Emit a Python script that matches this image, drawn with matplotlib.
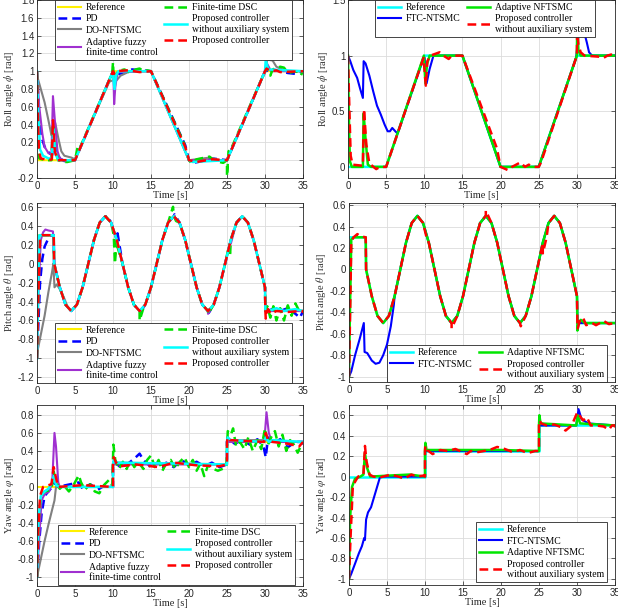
import numpy as np
import matplotlib.pyplot as plt

plt.rcParams['font.family'] = ['Liberation Serif', 'DejaVu Serif']
plt.rcParams['mathtext.fontset'] = 'stix'
plt.rcParams['axes.unicode_minus'] = False

# reference trajectories (corner points)
roll_t = [0, 5, 10, 15, 20, 25, 30, 35]
roll_v = [0, 0, 1, 1, 0, 0, 1, 1]

pitch_t = [0, 2.2] + list(np.arange(2.25, 30.01, 0.75)) + [30.05, 35]
pitch_v = [0.3, 0.3,
           0.0, -0.25, -0.433, -0.5, -0.433, -0.25, 0.0, 0.25, 0.433, 0.5, 0.433, 0.25,
           0.0, -0.25, -0.433, -0.5, -0.433, -0.25, 0.0, 0.25, 0.433, 0.5, 0.433, 0.25,
           0.0, -0.25, -0.433, -0.5, -0.433, -0.25, 0.0, 0.25, 0.433, 0.5, 0.433, 0.25,
           0.0, -0.25,
           -0.5, -0.5]

yaw_t = [0, 10, 10, 25, 25, 35]
yaw_v = [0, 0, 0.25, 0.25, 0.5, 0.5]

# --- roll, left panel: own points of each controller (t, value)
roll_pd = [(0, 1), (0.3, 0.5), (0.6, 0.26), (1.0, 0.15), (1.6, 0.08), (2.0, 0.06), (2.2, 0.25),
           (2.5, 0.1), (3.0, 0.02), (3.6, -0.01), (4.5, 0.0), (10.2, 0.95), (12.5, 1.02),
           (19.5, 0.17), (20.5, -0.03), (21.2, -0.02), (23, 0.02), (31, 1.02), (33, 0.98), (34, 0.97)]
roll_do = [(0, 0.95), (0.5, 0.8), (1.0, 0.65), (1.5, 0.45), (1.9, 0.28), (2.1, 0.3), (2.4, 0.42),
           (2.8, 0.25), (3.2, 0.1), (3.6, 0.05), (4.5, 0.03), (5.0, 0.01), (9.5, 0.88), (10.0, 0.9),
           (10.5, 0.9), (11.0, 0.95), (12.0, 0.99), (13.0, 1.0), (22.8, 0.03), (24.0, 0.0),
           (29.5, 0.9), (30.0, 0.98), (30.3, 1.13), (31.0, 1.12), (31.5, 1.05), (32.0, 1.03), (33.0, 1.0)]
roll_af = [(0, 1), (0.3, 0.6), (0.7, 0.3), (1.0, 0.15), (1.5, 0.08), (1.9, 0.07), (2.1, 0.72),
           (2.3, 0.5), (2.7, 0.1), (3.0, 0.02), (3.5, 0.0), (9.8, 0.96), (10.05, 0.98), (10.15, 0.63),
           (10.3, 0.82), (10.6, 0.99), (30.3, 1.08), (30.8, 1.0)]
roll_dsc = [(0, 1), (0.15, 0.4), (0.3, 0.02), (1.0, 0.0), (1.9, 0.0), (2.1, 0.4), (2.4, 0.1), (2.8, 0.0),
            (3.5, -0.02), (4.0, -0.02), (5.4, 0.17), (5.7, 0.15), (9.9, 0.98), (10.0, 1.1), (10.1, 0.9),
            (10.3, 0.92), (10.6, 1.0), (11.5, 1.02), (12.3, 0.98), (13.0, 1.02), (13.5, 1.03), (14.0, 1.0),
            (14.5, 1.01), (19.3, 0.2), (19.6, 0.1), (20.3, -0.03), (21.0, 0.01), (22.7, 0.04), (23.2, 0.0),
            (24.0, -0.02), (24.5, -0.03), (25.0, -0.18), (25.2, 0.1), (25.5, 0.12), (30.3, 1.05),
            (30.7, 0.95), (31.0, 1.02), (32.0, 1.05), (32.5, 1.04), (33.0, 0.98), (34.2, 1.0), (34.7, 0.95)]
roll_cyan = [(0, 1), (0.15, 0.55), (0.4, 0.12), (0.8, 0.05), (1.5, 0.02), (1.95, 0.02), (2.15, 0.35),
             (2.4, 0.08), (2.8, 0.0), (9.9, 0.98), (10.0, 0.95), (10.2, 0.8), (10.4, 0.95), (10.7, 1.0),
             (20.5, -0.02), (30.1, 1.13), (30.4, 1.02)]
roll_red = [(0, 1), (0.1, 0.6), (0.25, 0.1), (0.5, 0.02), (1.5, 0.0), (1.95, 0.01), (2.1, 0.45),
            (2.35, 0.1), (2.7, 0.0), (10.1, 0.97), (10.3, 1.0), (12, 1.01), (13.5, 0.99), (19.5, 0.15),
            (21, -0.02), (23, 0.01), (30.2, 1.03), (30.8, 1.0), (31.5, 1.01), (32, 0.99)]

# --- roll, right panel
rollr_ftc = [(0, 1), (0.3, 0.95), (0.7, 0.87), (1.2, 0.8), (1.6, 0.7), (1.95, 0.62), (2.05, 0.95),
             (2.3, 0.93), (2.8, 0.82), (3.3, 0.68), (3.8, 0.55), (4.3, 0.47), (4.8, 0.38), (5.2, 0.32),
             (5.5, 0.32), (5.8, 0.35), (6.2, 0.32), (6.5, 0.3), (9.9, 0.98), (10.05, 0.98), (10.3, 0.75),
             (10.7, 0.88), (11.2, 1.0), (29.9, 0.98), (30.1, 1.1), (30.3, 1.25), (30.6, 1.3), (31.0, 1.2),
             (31.3, 1.12), (31.6, 1.03), (32.0, 1.0)]
rollr_anf = [(0, 1), (0.1, 0.5), (0.25, 0.05), (0.5, 0.0), (1.95, 0.0), (2.05, 0.48), (2.3, 0.25),
             (2.6, 0.02), (3.0, 0.0), (9.95, 1.0), (10.15, 0.75), (10.35, 0.92), (10.7, 1.0),
             (30.05, 1.3), (30.2, 1.05), (30.5, 1.0)]
rollr_red = [(0, 1), (0.15, 0.6), (0.35, 0.1), (0.6, 0.02), (1.95, 0.01), (2.1, 0.52), (2.4, 0.2),
             (2.8, 0.03), (3.7, -0.02), (4.2, 0.0), (9.9, 0.98), (10.2, 0.73), (10.4, 0.95), (10.8, 1.0),
             (12.0, 1.03), (12.5, 1.0), (13.2, 0.97), (13.6, 1.0), (19.5, 0.17), (21.0, -0.03), (21.5, 0.0),
             (22.6, 0.04), (23.2, 0.0), (23.7, 0.02), (24.3, 0.0), (25.3, 0.04), (30.05, 1.22), (30.2, 1.1),
             (30.5, 1.03), (31, 1.0), (33, 0.99), (33.5, 0.98), (34, 1.0), (34.5, 1.01)]

# --- pitch, left panel
pitch_pd = [(0, -1), (0.2, -0.6), (0.4, -0.2), (0.7, 0.05), (1.0, 0.18), (1.4, 0.25), (1.8, 0.3),
            (2.2, 0.3), (9.3, 0.5), (10.6, 0.32), (13.7, -0.5), (18.1, 0.52), (22.6, -0.52),
            (30.3, -0.5), (31, -0.48), (32, -0.5), (33, -0.47), (34, -0.53), (34.6, -0.57)]
pitch_do = [(0, -0.95), (0.5, -0.75), (1.0, -0.55), (1.5, -0.3), (2.0, -0.08), (2.15, 0.0), (2.3, -0.25),
            (2.6, -0.22), (3.0, -0.27), (3.5, -0.35), (4.0, -0.45), (4.5, -0.5), (31, -0.5), (33, -0.5)]
pitch_af = [(0, -1), (0.2, -0.3), (0.5, 0.25), (0.8, 0.33), (1.1, 0.36), (1.5, 0.35), (2.1, 0.34),
            (2.3, 0.0), (22.5, -0.53), (25.5, 0.21)]
pitch_dsc = [(0, -1), (0.2, -0.2), (0.4, 0.3), (2.2, 0.3), (10.1, 0.3), (10.25, 0.0), (10.5, 0.2),
             (13.5, -0.6), (14.0, -0.47), (17.9, 0.6), (18.3, 0.45), (22.5, -0.53), (25.3, 0.2),
             (25.4, 0.08), (25.7, 0.3), (30.3, -0.45), (30.7, -0.57), (31.1, -0.45), (31.5, -0.6),
             (32, -0.47), (32.5, -0.6), (33, -0.44), (33.5, -0.55), (34, -0.42), (34.5, -0.5)]
pitch_cyan = [(0, -1), (0.1, -0.5), (0.3, 0.3), (2.2, 0.3), (30.5, -0.5), (31.5, -0.47), (32.5, -0.5),
              (34, -0.48)]
pitch_red = [(0, -1), (0.15, -0.4), (0.4, 0.28), (0.7, 0.3), (2.2, 0.3), (30.1, -0.58), (30.4, -0.48),
             (30.8, -0.53), (31.5, -0.5), (33, -0.51), (35, -0.52)]

# --- pitch, right panel
pitchr_ftc = [(0, -1), (0.3, -0.95), (0.8, -0.8), (1.4, -0.65), (1.95, -0.5), (2.05, -0.77), (2.4, -0.78),
              (3.0, -0.85), (3.5, -0.88), (4.0, -0.87), (4.5, -0.8), (5.0, -0.7), (5.5, -0.53), (5.9, -0.33)]
pitchr_anf = [(0, -1), (0.1, -0.5), (0.3, 0.28), (0.6, 0.3), (2.2, 0.3), (30.05, -0.57), (30.2, -0.5),
              (30.5, -0.47), (31, -0.5)]
pitchr_red = [(0, -1), (0.1, -0.6), (0.3, 0.25), (0.6, 0.3), (1.1, 0.33), (1.5, 0.31), (2.2, 0.3),
              (10.2, 0.3), (13.5, -0.55), (18, 0.55), (22.6, -0.53), (25.5, 0.15), (26.0, 0.3),
              (30.1, -0.55), (30.4, -0.47), (30.8, -0.45), (31.2, -0.52), (32, -0.5), (32.5, -0.52),
              (33.5, -0.48), (34.2, -0.51), (35, -0.52)]

# --- yaw, left panel
yaw_pd = [(0, -1), (0.3, -0.6), (0.6, -0.3), (1.0, -0.1), (1.5, -0.05), (2.0, 0.0), (2.3, 0.05), (2.7, 0.0),
          (5.5, 0.05), (6.0, -0.02), (7.0, 0.03), (8.0, -0.03), (9.0, 0.02), (10.1, 0.28), (11, 0.22),
          (12, 0.26), (13, 0.33), (13.5, 0.37), (14, 0.3), (15, 0.22), (16, 0.28), (16.5, 0.2), (17, 0.27),
          (18, 0.22), (19, 0.3), (20, 0.24), (21, 0.28), (22, 0.23), (23, 0.27), (24, 0.22), (25.1, 0.55),
          (26, 0.48), (27, 0.52), (28, 0.47), (29, 0.53), (29.8, 0.45), (30.1, 0.33), (30.4, 0.55),
          (31, 0.48), (32, 0.53), (33, 0.44), (34, 0.5), (35, 0.47)]
yaw_do = [(0, -1), (0.5, -0.8), (1.0, -0.6), (1.5, -0.42), (2.0, -0.25), (2.3, -0.15), (2.5, 0.0),
          (3.0, 0.0), (10.2, 0.27), (25.2, 0.52), (30.2, 0.52), (31, 0.5)]
yaw_af = [(0, -1), (0.3, -0.55), (0.6, -0.15), (1.0, -0.08), (1.6, -0.05), (2.0, 0.05), (2.3, 0.6),
          (2.5, 0.45), (2.8, 0.05), (3.0, 0.0), (29.9, 0.5), (30.2, 0.83), (30.5, 0.6), (30.9, 0.5)]
yaw_dsc = [(0, -1), (0.2, -0.4), (0.5, -0.1), (1.0, -0.05), (1.5, -0.04), (2.0, 0.02), (2.2, 0.17),
           (2.5, 0.05), (3.0, -0.02), (3.5, 0.02), (4.2, -0.05), (4.8, 0.02), (5.5, 0.13), (5.8, 0.05),
           (6.3, -0.03), (7.0, 0.03), (7.6, -0.05), (8.2, -0.07), (8.8, 0.02), (9.5, 0.08), (9.9, 0.02),
           (10.05, 0.47), (10.3, 0.3), (10.8, 0.2), (11.3, 0.28), (11.8, 0.2), (12.3, 0.3), (12.8, 0.22),
           (13.3, 0.28), (14, 0.2), (14.5, 0.3), (15, 0.35), (15.5, 0.22), (16, 0.3), (16.5, 0.18),
           (17, 0.26), (17.6, 0.3), (18.2, 0.2), (18.8, 0.28), (19.4, 0.33), (20, 0.22), (20.5, 0.3),
           (21, 0.18), (21.5, 0.26), (22, 0.12), (22.5, 0.24), (23.2, 0.2), (23.8, 0.18), (24.4, 0.2),
           (24.9, 0.22), (25.1, 0.62), (25.5, 0.58), (25.8, 0.65), (26.2, 0.45), (26.7, 0.5), (27.3, 0.42),
           (27.8, 0.55), (28.4, 0.4), (29, 0.52), (29.5, 0.42), (30, 0.65), (30.4, 0.47), (30.8, 0.55),
           (31.3, 0.62), (31.8, 0.45), (32.3, 0.58), (32.8, 0.4), (33.3, 0.52), (33.8, 0.47), (34.3, 0.38),
           (34.7, 0.45), (35, 0.48)]
yaw_cyan = [(0, -1), (0.2, -0.35), (0.5, -0.1), (1.0, -0.05), (1.5, -0.02), (2.0, 0.05), (2.2, 0.12),
            (2.5, 0.02), (3, 0), (10.1, 0.3), (10.5, 0.27), (25.1, 0.55), (25.5, 0.52), (29.9, 0.5),
            (30.1, 0.55), (30.5, 0.5), (31, 0.52)]
yaw_red = [(0, -1), (0.15, -0.5), (0.4, -0.1), (0.8, 0.0), (1.9, 0.03), (2.2, 0.22), (2.5, 0.1), (2.8, 0.0),
           (6, 0.02), (10.1, 0.33), (10.4, 0.27), (11, 0.23), (13, 0.25), (16, 0.22), (18, 0.27), (21, 0.24),
           (24, 0.23), (25.1, 0.55), (25.4, 0.52), (29.9, 0.5), (30.1, 0.6), (30.4, 0.52), (31, 0.5),
           (33, 0.48), (34.5, 0.45)]

# --- yaw, right panel
yawr_ftc = [(0, -1), (0.3, -0.95), (0.8, -0.85), (1.3, -0.75), (1.7, -0.68), (2.0, -0.6), (2.1, -0.62),
            (2.25, -0.42), (2.5, -0.35), (2.9, -0.3), (3.3, -0.2), (3.7, -0.1), (4.1, 0.0), (29.9, 0.5),
            (30.2, 0.66), (30.6, 0.56), (31.5, 0.52)]
yawr_anf = [(0, -1), (0.15, -0.4), (0.4, -0.1), (0.8, -0.02), (1.5, 0.0), (1.9, 0.02), (2.1, 0.23),
            (2.4, 0.08), (2.8, 0.0), (5.3, 0.01), (8, 0.02), (10.05, 0.33), (10.2, 0.26), (15, 0.26),
            (20, 0.26), (25.05, 0.6), (25.2, 0.52), (29.9, 0.5), (30.1, 0.6), (30.4, 0.52)]
yawr_red = [(0, -1), (0.2, -0.6), (0.5, -0.1), (0.8, -0.05), (1.2, 0.0), (1.9, 0.02), (2.1, 0.3),
            (2.3, 0.15), (2.7, 0.02), (3.2, 0.0), (4.0, -0.01), (5.5, 0.02), (6.5, 0.0), (7.3, -0.02),
            (8.2, 0.02), (9, 0.0), (9.8, 0.01), (10.05, 0.3), (10.3, 0.26), (11, 0.22), (12, 0.26),
            (13, 0.25), (14, 0.27), (15.5, 0.22), (16, 0.25), (17, 0.24), (18.5, 0.26), (19.5, 0.29),
            (20.5, 0.27), (21.5, 0.24), (22.5, 0.26), (23.5, 0.23), (24.5, 0.25), (25.05, 0.55),
            (25.3, 0.52), (26, 0.5), (27, 0.51), (28, 0.48), (28.5, 0.45), (29.3, 0.5), (30.05, 0.63),
            (30.3, 0.6), (30.8, 0.55), (31.3, 0.58), (31.8, 0.5), (32.5, 0.5), (33.5, 0.49), (34.2, 0.46),
            (34.6, 0.5), (35, 0.48)]

left_labels = ['Reference', 'PD', 'DO-NFTSMC', 'Adaptive fuzzy\nfinite-time control',
               'Finite-time DSC', 'Proposed controller\nwithout auxiliary system', 'Proposed controller']
right_labels = ['Reference', 'FTC-NTSMC', 'Adaptive NFTSMC', 'Proposed controller\nwithout auxiliary system']

DASH = (3.5, 2)
left_styles = [dict(color='#FFF000', lw=1.5),
               dict(color='#0000FF', lw=1.8, dashes=DASH),
               dict(color='#808080', lw=1.5),
               dict(color='#A030D0', lw=1.5),
               dict(color='#00E000', lw=1.8, dashes=DASH),
               dict(color='#00FFFF', lw=1.8),
               dict(color='#FF0000', lw=1.8, dashes=DASH)]
right_styles = [dict(color='#00FFFF', lw=1.8),
                dict(color='#0000FF', lw=1.5),
                dict(color='#00E600', lw=1.8),
                dict(color='#FF0000', lw=1.8, dashes=DASH)]


def track(ref_t, ref_v, own=(), after=0.0, skip=()):
    # own points of a controller, plus the reference corners where it follows the reference
    pts = [(t, v) for t, v in zip(ref_t, ref_v)
           if t >= after and not any(a <= t <= b for a, b in skip)]
    pts += list(own)
    pts.sort(key=lambda p: p[0])
    return [p[0] for p in pts], [p[1] for p in pts]


fig = plt.figure(figsize=(6.18, 6.15), dpi=100)


def px_axes(l, t, r, b):
    return fig.add_axes([l / 618, 1 - b / 615, (r - l) / 618, (b - t) / 615])


def style_axes(ax, ylim, yticks, ylabel):
    ax.set_xlim(0, 35)
    ax.set_ylim(*ylim)
    ax.set_xticks(range(0, 36, 5))
    ax.set_yticks(yticks)
    ax.set_yticklabels(['%g' % v for v in yticks])
    ax.grid(True, color='#DCDCDC', lw=0.6)
    ax.set_axisbelow(True)
    ax.tick_params(direction='in', length=3, width=0.5, top=True, right=True,
                   labelsize=7, pad=2, colors='#262626', labelfontfamily='Liberation Sans')
    for s in ax.spines.values():
        s.set_linewidth(0.6)
        s.set_color('#262626')
    ax.set_xlabel('Time [s]', fontsize=7.5, labelpad=0, color='#262626')
    ax.set_ylabel(ylabel, fontsize=7.5, labelpad=1, color='#333333')


def draw(ax, curves, styles, labels):
    handles = []
    for (t, v), st, lab in zip(curves, styles, labels):
        h, = ax.plot(t, v, label=lab, **st)
        handles.append(h)
    return handles


def add_legend(ax, handles, loc, x, y, ncol):
    leg = ax.legend(handles=handles, loc=loc, bbox_to_anchor=(x / 618, 1 - y / 615),
                    bbox_transform=fig.transFigure, ncol=ncol, fontsize=7, frameon=True,
                    fancybox=False, framealpha=1, edgecolor='#262626', borderaxespad=0,
                    borderpad=0.3, labelspacing=0.25, handlelength=2.4, handletextpad=0.5,
                    columnspacing=0.6)
    leg.get_frame().set_linewidth(0.6)


R = (roll_t, roll_v)
P = (pitch_t, pitch_v)
Y = (yaw_t, yaw_v)

# roll, left
ax = px_axes(37, 0, 303, 178)
curves = [track(*R),
          track(*R, roll_pd, 4.6),
          track(*R, roll_do, 5.1, [(9.4, 13.1), (29.4, 33.1)]),
          track(*R, roll_af, 3.6, [(9.7, 10.7)]),
          track(*R, roll_dsc, 5.0, [(9.8, 10.7)]),
          track(*R, roll_cyan, 2.9, [(9.8, 10.8)]),
          track(*R, roll_red, 2.8)]
h = draw(ax, curves, left_styles, left_labels)
style_axes(ax, (-0.2, 1.8), [-0.2, 0, 0.2, 0.4, 0.6, 0.8, 1, 1.2, 1.4, 1.6, 1.8], r'Roll angle $\phi$ [rad]')
add_legend(ax, h, 'upper left', 55, 0, 2)

# roll, right
ax = px_axes(348, 0, 615, 178)
curves = [track(*R),
          track(*R, rollr_ftc, 6.6, [(9.8, 11.3), (29.8, 32.1)]),
          track(*R, rollr_anf, 3.0, [(9.9, 10.8)]),
          track(*R, rollr_red, 4.3, [(9.8, 10.9)])]
h = draw(ax, curves, right_styles, right_labels)
style_axes(ax, (-0.1, 1.5), [0, 0.5, 1, 1.5], r'Roll angle $\phi$ [rad]')
add_legend(ax, h, 'upper left', 375, 0, 2)

# pitch, left
ax = px_axes(37, 203, 303, 383)
curves = [track(*P),
          track(*P, pitch_pd, 2.25),
          track(*P, pitch_do, 4.6),
          track(*P, pitch_af, 2.4),
          track(*P, pitch_dsc, 2.25),
          track(*P, pitch_cyan, 2.25),
          track(*P, pitch_red, 2.25)]
h = draw(ax, curves, left_styles, left_labels)
style_axes(ax, (-1.26, 0.64), [-1.2, -1, -0.8, -0.6, -0.4, -0.2, 0, 0.2, 0.4, 0.6], r'Pitch angle $\theta$ [rad]')
add_legend(ax, h, 'lower left', 55, 383, 2)

# pitch, right
ax = px_axes(349, 203, 615, 382)
curves = [track(*P),
          track(*P, pitchr_ftc, 6.0),
          track(*P, pitchr_anf, 2.25),
          track(*P, pitchr_red, 2.25)]
h = draw(ax, curves, right_styles, right_labels)
style_axes(ax, (-1.05, 0.62), [-1, -0.8, -0.6, -0.4, -0.2, 0, 0.2, 0.4, 0.6], r'Pitch angle $\theta$ [rad]')
add_legend(ax, h, 'lower left', 387, 382, 2)

# yaw, left
ax = px_axes(37, 405, 303, 586)
curves = [track(*Y),
          track(*Y, yaw_pd, 2.8),
          track(*Y, yaw_do, 3.1),
          track(*Y, yaw_af, 3.1),
          track(*Y, yaw_dsc, 36),
          track(*Y, yaw_cyan, 3.1),
          track(*Y, yaw_red, 2.9)]
h = draw(ax, curves, left_styles, left_labels)
style_axes(ax, (-1.1, 0.91), [-1, -0.8, -0.6, -0.4, -0.2, 0, 0.2, 0.4, 0.6, 0.8], r'Yaw angle $\varphi$ [rad]')
add_legend(ax, h, 'lower left', 58, 585, 2)

# yaw, right
ax = px_axes(349, 405, 615, 585)
curves = [track(*Y),
          track(*Y, yawr_ftc, 4.2),
          track(*Y, yawr_anf, 2.9),
          track(*Y, yawr_red, 4.1)]
h = draw(ax, curves, right_styles, right_labels)
style_axes(ax, (-1.06, 0.7), [-1, -0.8, -0.6, -0.4, -0.2, 0, 0.2, 0.4, 0.6], r'Yaw angle $\varphi$ [rad]')
add_legend(ax, h, 'lower left', 476, 582, 1)

fig.savefig('out.png', dpi=100)
